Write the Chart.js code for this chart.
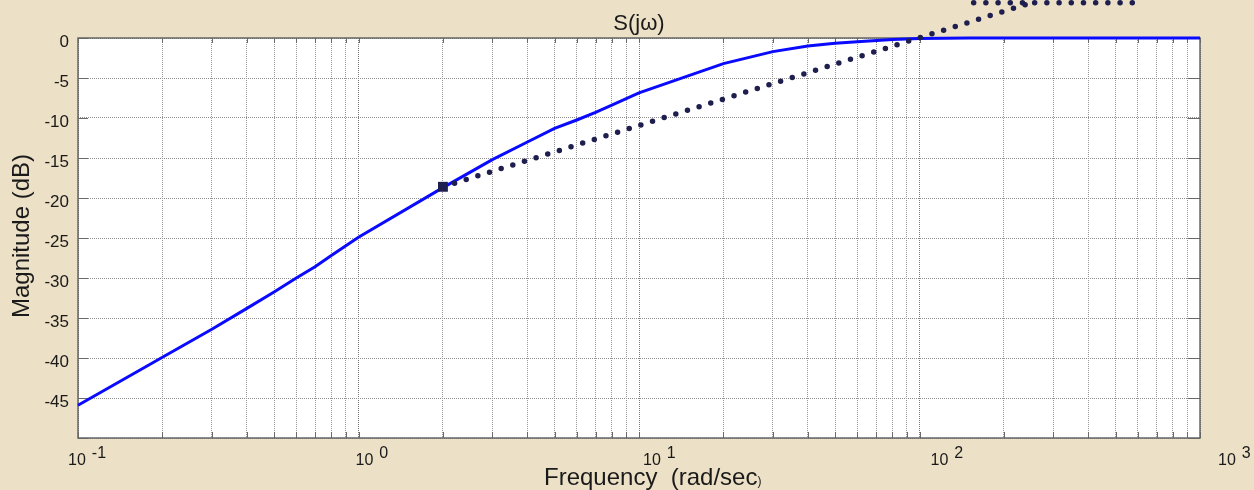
<!DOCTYPE html>
<html>
<head>
<meta charset="utf-8">
<script src="https://cdn.jsdelivr.net/npm/chart.js@4.4.1/dist/chart.umd.min.js"></script>
<style>
  html, body { margin: 0; padding: 0; background: #ece1c6; }
  #chart { display: block; }
</style>
</head>
<body>
<canvas id="chart" width="1254" height="490"></canvas>
<script>
// magnitude of S(jw)
const freq = [0.1, 0.2, 0.3, 0.4, 0.5, 0.6, 0.7, 0.8, 1, 2, 3, 4, 5, 6, 7, 8, 10, 20, 30, 40, 50, 60, 80, 100, 150, 200, 1000];
const magDb = [-45.9, -39.9, -36.4, -33.8, -31.75, -30.0, -28.6, -27.2, -24.9, -18.7, -15.2, -13.0, -11.3, -10.25, -9.3, -8.4, -6.85, -3.2, -1.7, -1.0, -0.67, -0.46, -0.18, -0.05, 0, 0, 0];

// hand drawn asymptote (dotted) and its marker
const asymFreq = [2, 250];
const asymDb = [-18.6, 4.4];
const topFreq = [156, 577];
const topDb = [4.4, 4.4];
const markFreq = [2];
const markDb = [-18.6];

// axes
const xTicks = [0.1, 0.2, 0.3, 0.4, 0.5, 0.6, 0.7, 0.8, 0.9,
  1, 2, 3, 4, 5, 6, 7, 8, 9,
  10, 20, 30, 40, 50, 60, 70, 80, 90,
  100, 200, 300, 400, 500, 600, 700, 800, 900, 1000];
const decades = [0.1, 1, 10, 100, 1000];
const decadeExp = ["-1", "0", "1", "2", "3"];
const yMin = -50;
const yMax = 0;

const FONT = "'Liberation Sans', Arial, sans-serif";
const NAVY = "#1f1f4f";
const INK = "#1a1a1a";
const BG = "#ece1c6";

const pts = (xs, ys) => xs.map((v, i) => ({ x: v, y: ys[i] }));

const decor = {
  id: "decor",
  beforeDraw(chart) {
    const { ctx, chartArea: a } = chart;
    ctx.save();
    ctx.fillStyle = BG;
    ctx.fillRect(0, 0, chart.width, chart.height);
    ctx.fillStyle = "#fff";
    ctx.fillRect(a.left, a.top, a.right - a.left, a.bottom - a.top);
    ctx.restore();
  },
  beforeDatasetsDraw(chart) {
    const { ctx, chartArea: a, scales } = chart;
    const x = scales.x, y = scales.y;
    ctx.save();
    // inward tick marks
    ctx.strokeStyle = "#6a6a6a";
    ctx.lineWidth = 1;
    ctx.beginPath();
    x.ticks.forEach((t) => {
      const px = Math.round(x.getPixelForValue(t.value)) + 0.5;
      ctx.moveTo(px, a.bottom);
      ctx.lineTo(px, a.bottom - 6);
      ctx.moveTo(px, a.top);
      ctx.lineTo(px, a.top + 5);
    });
    y.ticks.forEach((t) => {
      const py = Math.round(y.getPixelForValue(t.value)) + 0.5;
      ctx.moveTo(a.left, py);
      ctx.lineTo(a.left + 10, py);
      ctx.moveTo(a.right, py);
      ctx.lineTo(a.right - 12, py);
    });
    ctx.stroke();
    // frame
    ctx.strokeStyle = "#666";
    ctx.lineWidth = 1.5;
    ctx.strokeRect(a.left, a.top, a.right - a.left, a.bottom - a.top);
    ctx.restore();
  },
  afterDraw(chart) {
    const { ctx, chartArea: a, scales } = chart;
    ctx.save();
    ctx.fillStyle = INK;
    ctx.textBaseline = "alphabetic";

    // title
    ctx.font = `22px ${FONT}`;
    ctx.textAlign = "center";
    ctx.fillText("S(j\u03c9)", (a.left + a.right) / 2, 30);

    // decade labels 10^n
    ctx.textAlign = "left";
    decades.forEach((v, i) => {
      const px = scales.x.getPixelForValue(v);
      const x0 = px - 10 + 7 * i;
      ctx.font = `16px ${FONT}`;
      ctx.fillText("10", x0, 465);
      const w = ctx.measureText("10").width;
      ctx.fillText(decadeExp[i], x0 + w + 6, 458);
    });

    // x title, with the small closing bracket
    ctx.font = `24px ${FONT}`;
    const main = "Frequency  (rad/sec";
    ctx.fillText(main, 544, 485);
    const mw = ctx.measureText(main).width;
    ctx.font = `12px ${FONT}`;
    ctx.fillText(")", 544 + mw, 485);

    // y title
    ctx.translate(29, 236);
    ctx.rotate(-Math.PI / 2);
    ctx.font = `24px ${FONT}`;
    ctx.textAlign = "center";
    ctx.fillText("Magnitude (dB)", 0, 0);
    ctx.restore();
  },
};

new Chart(document.getElementById("chart"), {
  type: "line",
  data: {
    datasets: [
      {
        data: pts(markFreq, markDb),
        showLine: false,
        pointStyle: "rect",
        pointRadius: 7,
        pointBackgroundColor: NAVY,
        pointBorderColor: NAVY,
        pointBorderWidth: 0,
        clip: false,
      },
      {
        data: pts(asymFreq, asymDb),
        borderColor: NAVY,
        borderWidth: 5.5,
        borderDash: [0, 12.2],
        borderCapStyle: "round",
        pointRadius: 0,
        clip: false,
      },
      {
        data: pts(topFreq, topDb),
        borderColor: NAVY,
        borderWidth: 5.5,
        borderDash: [0, 12.2],
        borderCapStyle: "round",
        pointRadius: 0,
        clip: false,
      },
      {
        data: pts(freq, magDb),
        borderColor: "#0a0aff",
        borderWidth: 3,
        pointRadius: 0,
        tension: 0,
        clip: false,
      },
    ],
  },
  options: {
    responsive: false,
    animation: false,
    events: [],
    layout: { padding: { top: 38, right: 54, left: 0, bottom: 0 } },
    plugins: { legend: { display: false }, tooltip: { enabled: false }, title: { display: false } },
    scales: {
      x: {
        type: "logarithmic",
        min: 0.1,
        max: 1000,
        afterBuildTicks: (s) => { s.ticks = xTicks.map((v) => ({ value: v })); },
        afterFit: (s) => { s.height = 52; },
        ticks: { display: false },
        grid: {
          drawTicks: false,
          color: (c) => (c.tick && decades.includes(c.tick.value) ? "#7a7a7a" : "#979797"),
          lineWidth: 1,
        },
        border: { display: false, dash: [1, 1] },
      },
      y: {
        min: yMin,
        max: yMax,
        ticks: {
          stepSize: 5,
          padding: 9,
          labelOffset: 4,
          color: INK,
          font: { family: FONT, size: 17 },
          callback: (v) => (v === yMin ? "" : v),
        },
        afterFit: (s) => { s.width = 78; },
        grid: { drawTicks: false, color: "#8f8f8f", lineWidth: 1 },
        border: { display: false, dash: [1, 1] },
      },
    },
  },
  plugins: [decor],
});
</script>
</body>
</html>
